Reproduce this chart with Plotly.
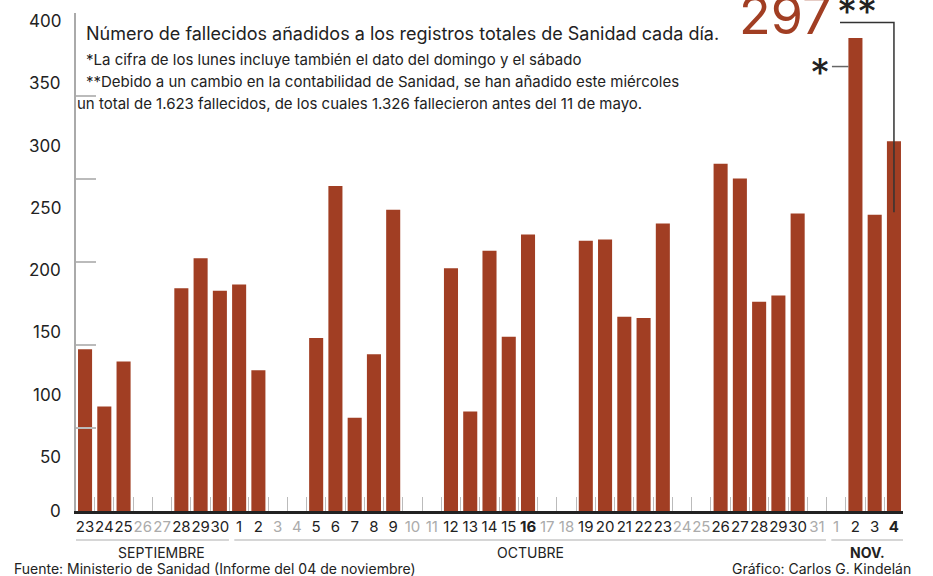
import plotly.graph_objects as go
import pandas as pd

# ---- data ----
dates = pd.date_range("2020-09-23", "2020-11-04", freq="D")
day_labels = [str(d.day) for d in dates]
month_names = {9: "SEPTIEMBRE", 10: "OCTUBRE", 11: "NOV."}
months = [month_names[d.month] for d in dates]
values = [130, 84, 120, None, None, 179, 203, 177,
          182, 113, None, None, 139, 261, 75, 126, 242, None, None,
          195, 80, 209, 140, 222, None, None, 217, 218, 156, 155, 231,
          None, None, 279, 267, 168, 173, 239, None,
          None, 380, 238, 297]
bold_days = ["2020-10-16", "2020-11-04"]
y_tick_labels = [0, 50, 100, 150, 200, 250, 300, 350, 400]

title = "Número de fallecidos añadidos a los registros totales de Sanidad cada día."
note1 = "*La cifra de los lunes incluye también el dato del domingo y el sábado"
note2 = "**Debido a un cambio en la contabilidad de Sanidad, se han añadido este miércoles"
note3 = "un total de 1.623 fallecidos, de los cuales 1.326 fallecieron antes del 11 de mayo."
source = "Fuente: Ministerio de Sanidad (Informe del 04 de noviembre)"
credit = "Gráfico: Carlos G. Kindelán"

BAR = "#A13E23"
DARK = "#222222"
GRAY = "#ABABAB"
FONT = "Inter"

x = list(range(len(dates)))

ticktext = []
for d, lab in zip(dates, day_labels):
    if d.strftime("%Y-%m-%d") in bold_days:
        ticktext.append(f"<b>{lab}</b>")
    elif d.weekday() >= 5:
        ticktext.append(f"<span style='color:{GRAY}'>{lab}</span>")
    else:
        ticktext.append(lab)

fig = go.Figure()
fig.add_trace(go.Bar(x=x, y=values, marker=dict(color=BAR, line=dict(width=0)),
                     width=0.73, hoverinfo="x+y"))

ymax = 400
fig.update_layout(
    width=933, height=576,
    margin=dict(l=76, r=30, t=13, b=65),
    paper_bgcolor="white", plot_bgcolor="white",
    font=dict(family=FONT, color=DARK),
    showlegend=False,
    xaxis=dict(
        range=[-0.47, len(x) - 1 + 0.47],
        tickmode="array", tickvals=x, ticktext=ticktext, tickangle=0,
        ticks="", tickfont=dict(size=15, color=DARK, family=FONT),
        showline=True, linecolor=DARK, linewidth=3,
        showgrid=False, zeroline=False,
        minor=dict(tickmode="linear", tick0=0.5, dtick=1, ticks="inside",
                   ticklen=14, tickwidth=1.2, tickcolor="#BBBBBB", showgrid=False),
    ),
    yaxis=dict(
        range=[0, ymax], showgrid=False, zeroline=False,
        showline=True, linecolor="#AAAAAA", linewidth=1.5,
        tickmode="array", tickvals=[ymax * k / 6 for k in range(7)],
        ticks="inside", ticklen=20, tickwidth=1.5, tickcolor="#BBBBBB",
        showticklabels=False,
    ),
)

ann = []
for v in y_tick_labels:
    ann.append(dict(x=0, xref="paper", y=v, yref="y", text=str(v), showarrow=False,
                    xanchor="right", yanchor="middle", xshift=-13,
                    yshift=(-8 if v > 0 else 0), font=dict(size=17, color=DARK)))

def px2paper_x(px):
    return (px - 76) / (933 - 76 - 30)

def px2paper_y(py):
    return (576 - 65 - py) / (576 - 65 - 13)

ann.append(dict(x=px2paper_x(84), y=px2paper_y(33), xref="paper", yref="paper",
                text=title, showarrow=False, xanchor="left", yanchor="middle",
                font=dict(size=18, color=DARK)))
for txt, px, py in [(note1, 84, 59), (note2, 84, 81), (note3, 75, 103)]:
    ann.append(dict(x=px2paper_x(px), y=px2paper_y(py), xref="paper", yref="paper",
                    text=txt, showarrow=False, xanchor="left", yanchor="middle",
                    font=dict(size=15, color=DARK)))

# month groups
groups = []
for i, m in enumerate(months):
    if not groups or groups[-1][0] != m:
        groups.append([m, i, i])
    else:
        groups[-1][2] = i
shapes = []
for gi, (m, a, b) in enumerate(groups):
    x0 = -0.47 if gi == 0 else a - 0.25
    x1 = b + 0.47
    shapes.append(dict(type="line", xref="x", yref="paper", x0=x0, x1=x1,
                       y0=px2paper_y(540), y1=px2paper_y(540),
                       line=dict(color="#C8C8C8", width=1.5)))
    label = f"<b>{m}</b>" if m == "NOV." else m
    ann.append(dict(x=(x0 + x1) / 2, xref="x", y=px2paper_y(552), yref="paper",
                    text=label, showarrow=False, xanchor="center", yanchor="middle",
                    xshift=(9 if gi == 0 else 0),
                    font=dict(size=14, color=DARK)))

ann.append(dict(x=px2paper_x(12), y=px2paper_y(568), xref="paper", yref="paper",
                text=source, showarrow=False, xanchor="left", yanchor="middle",
                font=dict(size=14, color=DARK)))
ann.append(dict(x=px2paper_x(913), y=px2paper_y(568), xref="paper", yref="paper",
                text=credit, showarrow=False, xanchor="right", yanchor="middle",
                font=dict(size=14, color=DARK)))

# callouts
last = len(x) - 1
ann.append(dict(x=px2paper_x(833), y=px2paper_y(15), xref="paper", yref="paper",
                text=str(values[last]), showarrow=False, xanchor="right", yanchor="middle",
                font=dict(size=52, color=BAR)))
ann.append(dict(x=px2paper_x(835), y=px2paper_y(12), xref="paper", yref="paper",
                text="**", showarrow=False, xanchor="left", yanchor="middle",
                font=dict(size=40, color=DARK)))
ann.append(dict(x=px2paper_x(820), y=px2paper_y(72), xref="paper", yref="paper",
                text="*", showarrow=False, xanchor="center", yanchor="middle",
                font=dict(size=40, color=DARK)))

y_top = (511 - 22) / 1.246
shapes.append(dict(type="path", xref="x", yref="y",
                   path=f"M 39.2 {y_top} L {last} {y_top} L {last} 240",
                   line=dict(color="#333333", width=1.5)))
mon = 40
shapes.append(dict(type="line", xref="x", yref="y", x0=38.78, x1=mon - 0.36,
                   y0=357, y1=357, line=dict(color="#666666", width=1.5)))

fig.update_layout(annotations=ann, shapes=shapes)
fig.write_html("out.html", config={"displayModeBar": False},
               post_script="document.body.style.margin='0';")
